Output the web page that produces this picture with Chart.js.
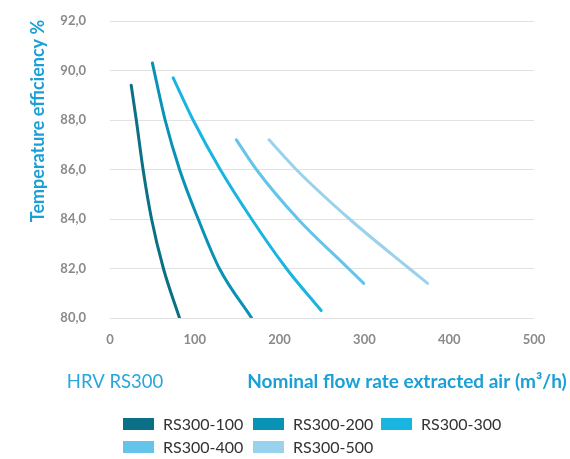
<!DOCTYPE html>
<html>
<head>
<meta charset="utf-8">
<script src="https://cdn.jsdelivr.net/npm/chart.js@4/dist/chart.umd.min.js"></script>
<style>
  html,body{margin:0;padding:0;background:#fff;}
  #wrap{width:570px;height:459px;position:relative;}
</style>
</head>
<body>
<div id="wrap"><canvas id="chart" width="570" height="459"></canvas></div>
<script>
// ====== DATA ======
const SERIES_NAMES = ['RS300-100','RS300-200','RS300-300','RS300-400','RS300-500'];
const SERIES_COLORS = ['#0b7086','#0893b4','#18b5e1','#64c4e9','#9ad2ed'];
const rs100Flow = [25, 31, 39, 49, 63, 82];
const rs100Eff  = [89.4, 88, 86, 84, 82, 80];
const rs200Flow = [50, 65, 82, 104, 129, 167];
const rs200Eff  = [90.3, 88, 86, 84, 82, 80];
const rs300Flow = [74.5, 98, 130, 167, 208, 249];
const rs300Eff  = [89.7, 88, 86, 84, 82, 80.3];
const rs400Flow = [149, 172.6, 221.6, 281.2, 299.2];
const rs400Eff  = [87.2, 86, 84, 82, 81.4];
const rs500Flow = [187.5, 219.6, 282.4, 352.9, 374.5];
const rs500Eff  = [87.2, 86, 84, 82, 81.4];
const FLOWS = [rs100Flow, rs200Flow, rs300Flow, rs400Flow, rs500Flow];
const EFFS  = [rs100Eff, rs200Eff, rs300Eff, rs400Eff, rs500Eff];

const Y_TITLE = 'Temperature efficiency %';
const X_TITLE = 'Nominal flow rate extracted air (m\u00B3/h)';
const SUB_TITLE = 'HRV RS300';

// ====== UTILS ======
function toPoints(xs, ys){ return xs.map((x,i)=>({x, y:ys[i]})); }
const FONT = 'Lato, "Open Sans", sans-serif';

// texts & legend drawn on canvas
const labelsPlugin = {
  id:'labels',
  afterDraw(chart){
    const ctx = chart.ctx;
    ctx.save();
    // y title
    ctx.fillStyle = '#1a9fd6';
    ctx.font = 'bold 18px ' + FONT;
    ctx.textAlign = 'center'; ctx.textBaseline = 'middle';
    ctx.translate(38, 121); ctx.rotate(-Math.PI/2);
    ctx.fillText(Y_TITLE, 0, 0);
    ctx.setTransform(1,0,0,1,0,0);
    // bottom titles
    ctx.font = '18.5px ' + FONT;
    ctx.fillStyle = '#2aa6dc';
    ctx.fillText(SUB_TITLE, 115, 382);
    ctx.font = 'bold 19px ' + FONT;
    ctx.fillStyle = '#1a9fd6';
    ctx.fillText(X_TITLE, 407, 382);
    // legend
    ctx.textAlign = 'left';
    ctx.font = '16px ' + FONT;
    const cols = [123, 253, 381], rows = [424, 447];
    chart.data.datasets.forEach((ds,i)=>{
      const x = cols[i%3], y = rows[Math.floor(i/3)];
      ctx.fillStyle = ds.borderColor;
      ctx.fillRect(x, y-6, 31, 12);
      ctx.fillStyle = '#333';
      ctx.fillText(ds.label, x+40, y+1);
    });
    ctx.restore();
  }
};

// ====== CHART ======
const ctx = document.getElementById('chart').getContext('2d');
new Chart(ctx, {
  type:'line',
  data:{
    datasets: SERIES_NAMES.map((n,i)=>({
      label:n,
      data: toPoints(FLOWS[i], EFFS[i]),
      borderColor: SERIES_COLORS[i],
      backgroundColor: SERIES_COLORS[i],
      borderWidth:3,
      borderCapStyle:'round',
      pointRadius:0,
      fill:false,
      cubicInterpolationMode:'monotone'
    }))
  },
  options:{
    responsive:false,
    animation:false,
    layout:{ padding:{left:0, top:21, right:36, bottom:0} },
    plugins:{ legend:{display:false}, tooltip:{enabled:false} },
    scales:{
      x:{
        type:'linear', min:0, max:500,
        grid:{display:false, drawTicks:false},
        border:{display:false},
        ticks:{stepSize:100, padding:14, color:'#8a8a8a', font:{family:FONT, size:13, weight:'bold'}},
        afterFit(s){ s.height = 141; s.paddingLeft = 0; s.paddingRight = 0; }
      },
      y:{
        min:80, max:92,
        grid:{color:'#e2e2e2', lineWidth:1, drawTicks:false},
        border:{display:false},
        ticks:{stepSize:2, padding:24, color:'#8a8a8a', font:{family:FONT, size:13, weight:'bold'},
          callback:v=>v.toFixed(1).replace('.',',')},
        afterFit(s){ s.width = 110; s.paddingTop = 0; s.paddingBottom = 0; }
      }
    }
  },
  plugins:[labelsPlugin]
});
</script>
</body>
</html>
